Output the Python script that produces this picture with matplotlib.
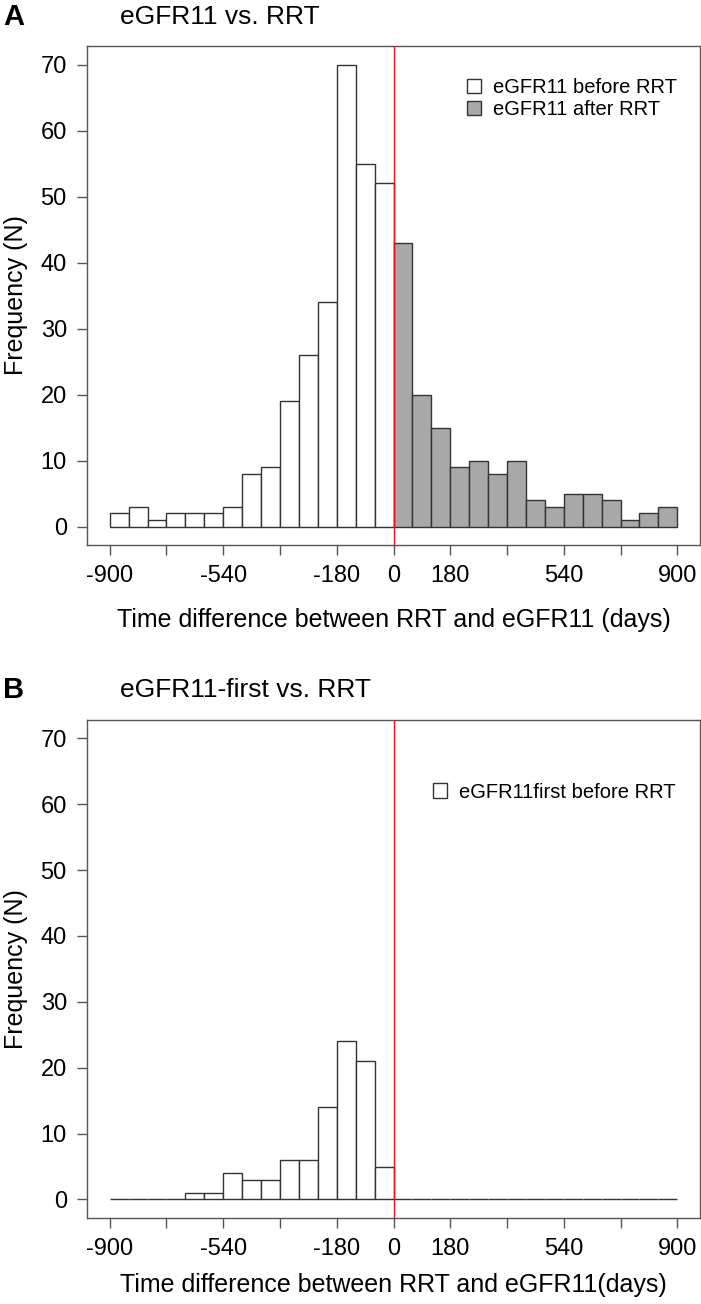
import numpy as np
import matplotlib.pyplot as plt
from matplotlib.patches import Patch

plt.rcParams['font.family'] = ['Liberation Sans', 'DejaVu Sans']

# bin edges: 60-day bins from -900 to 900
bin_edges = list(range(-900, 901, 60))

# panel A counts
before_counts = [2, 3, 1, 2, 2, 2, 3, 8, 9, 19, 26, 34, 70, 55, 52]
after_counts = [43, 20, 15, 9, 10, 8, 10, 4, 3, 5, 5, 4, 1, 2, 3]

# panel B counts (all 30 bins, zero after RRT)
first_counts = [0, 0, 0, 0, 1, 1, 4, 3, 3, 6, 6, 14, 24, 21, 5,
                0, 0, 0, 0, 0, 0, 0, 0, 0, 0, 0, 0, 0, 0, 0]

x_ticks = [-900, -720, -540, -360, -180, 0, 180, 360, 540, 720, 900]
x_labels = ['-900', '', '-540', '', '-180', '0', '180', '', '540', '', '900']
y_ticks = [0, 10, 20, 30, 40, 50, 60, 70]

edge_col = '#333333'
gray_fill = '#a8a8a8'


def style_axes(ax, xlabel, xpad):
    ax.set_xlim(-972, 972)
    ax.set_ylim(-2.8, 72.8)
    ax.set_xticks(x_ticks)
    ax.set_xticklabels(x_labels)
    ax.set_yticks(y_ticks)
    ax.tick_params(direction='out', length=7.5, width=1, labelsize=17,
                   color='#555555')
    ax.tick_params(axis='x', pad=7)
    ax.tick_params(axis='y', pad=7)
    for s in ax.spines.values():
        s.set_color('#555555')
        s.set_linewidth(1)
    ax.set_ylabel('Frequency (N)', fontsize=18, labelpad=9)
    ax.set_xlabel(xlabel, fontsize=18, labelpad=xpad)
    ax.axvline(0, color='#e8141c', lw=1, zorder=5)


fig = plt.figure(figsize=(7.01, 13.04), dpi=100)

# panel A
ax1 = fig.add_axes([0.1241, 0.582, 0.8745, 0.3827])
left = np.array(bin_edges[:-1])
ax1.bar(left[:15], before_counts, width=60, align='edge', color='white',
        edgecolor=edge_col, linewidth=1)
ax1.bar(left[15:], after_counts, width=60, align='edge', color=gray_fill,
        edgecolor=edge_col, linewidth=1)
style_axes(ax1, 'Time difference between RRT and eGFR11 (days)', 15)
handles = [Patch(facecolor='white', edgecolor=edge_col, label='eGFR11 before RRT'),
           Patch(facecolor=gray_fill, edgecolor=edge_col, label='eGFR11 after RRT')]
ax1.legend(handles=handles, loc='upper right', bbox_to_anchor=(0.9625, 0.936),
           frameon=False, fontsize=14.5, handlelength=0.7, handleheight=0.7,
           handletextpad=0.6, labelspacing=0.15, borderaxespad=0, borderpad=0)
fig.text(0.004, 0.987, 'A', fontsize=21, fontweight='bold', va='center')
fig.text(0.171, 0.987, 'eGFR11 vs. RRT', fontsize=19, va='center')

# panel B
ax2 = fig.add_axes([0.1241, 0.066, 0.8745, 0.382])
ax2.bar(left, first_counts, width=60, align='edge', color='white',
        edgecolor=edge_col, linewidth=1)
style_axes(ax2, 'Time difference between RRT and eGFR11(days)', 9)
handles = [Patch(facecolor='white', edgecolor=edge_col, label='eGFR11first before RRT')]
ax2.legend(handles=handles, loc='upper right', bbox_to_anchor=(0.96, 0.874),
           frameon=False, fontsize=14.5, handlelength=0.7, handleheight=0.7,
           handletextpad=0.6, borderaxespad=0, borderpad=0)
fig.text(0.004, 0.471, 'B', fontsize=21, fontweight='bold', va='center')
fig.text(0.171, 0.471, 'eGFR11-first vs. RRT', fontsize=19, va='center')

fig.savefig('out.png', dpi=100)
